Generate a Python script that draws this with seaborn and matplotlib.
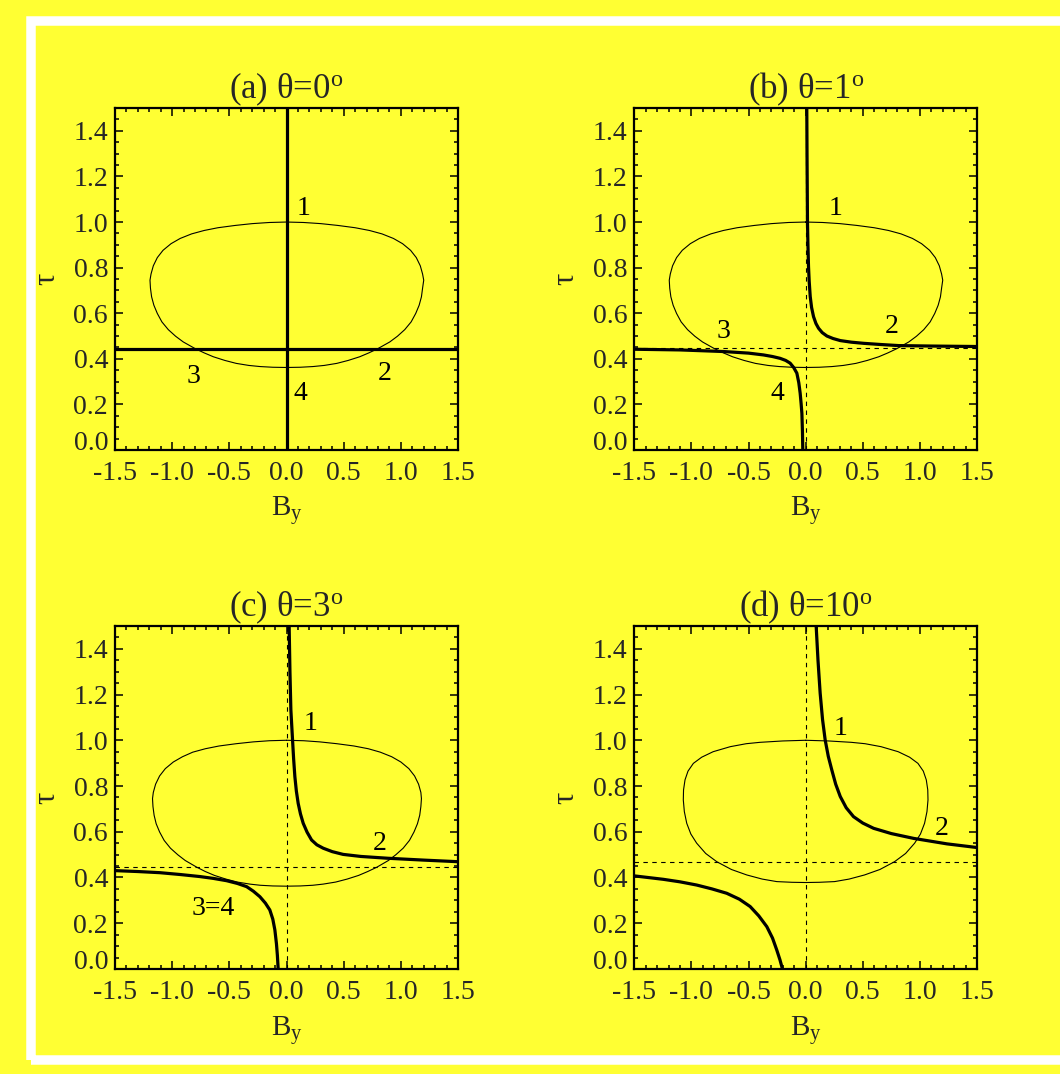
import numpy as np
import pandas as pd
import seaborn as sns
import matplotlib
matplotlib.use("Agg")
import matplotlib.pyplot as plt
from matplotlib.patches import Rectangle
from matplotlib.ticker import MultipleLocator

# ---------------- data ----------------
titles = ["(a) θ=0$^{\\rm o}$", "(b) θ=1$^{\\rm o}$", "(c) θ=3$^{\\rm o}$", "(d) θ=10$^{\\rm o}$"]
x_ticks = [-1.5, -1.0, -0.5, 0.0, 0.5, 1.0, 1.5]
y_ticks = [0.0, 0.2, 0.4, 0.6, 0.8, 1.0, 1.2, 1.4]

# closed oval (panels a, b)
oval_ab_x = [0.00, -0.15, -0.30, -0.45, -0.60, -0.72, -0.83, -0.93, -1.01, -1.08, -1.13, -1.165, -1.185, -1.194,
             -1.19, -1.18, -1.16, -1.13, -1.09, -1.034, -0.97, -0.903, -0.80, -0.72, -0.64, -0.54, -0.44, -0.33,
             -0.23, -0.12, 0.00,
             0.12, 0.23, 0.33, 0.44, 0.54, 0.64, 0.72, 0.80, 0.903, 0.97, 1.034, 1.09, 1.13, 1.16, 1.18, 1.19,
             1.20, 1.19, 1.17, 1.135, 1.085, 1.015, 0.935, 0.835, 0.725, 0.60, 0.45, 0.30, 0.15, 0.00]
oval_ab_y = [1.000, 0.998, 0.993, 0.985, 0.975, 0.963, 0.948, 0.928, 0.905, 0.876, 0.844, 0.808, 0.772, 0.745,
             0.710, 0.672, 0.635, 0.599, 0.562, 0.528, 0.499, 0.474, 0.445, 0.426, 0.409, 0.393, 0.380, 0.371,
             0.366, 0.363, 0.362,
             0.363, 0.366, 0.371, 0.380, 0.393, 0.409, 0.426, 0.445, 0.474, 0.499, 0.528, 0.562, 0.599, 0.635,
             0.672, 0.710,
             0.745, 0.772, 0.808, 0.844, 0.876, 0.905, 0.928, 0.948, 0.963, 0.975, 0.985, 0.993, 0.998, 1.000]
# oval (panel c)
oval_c_x = [0.00, -0.15, -0.29, -0.44, -0.59, -0.71, -0.82, -0.91, -0.99, -1.06, -1.11, -1.145, -1.165, -1.172,
            -1.168, -1.158, -1.14, -1.11, -1.07, -1.015, -0.95, -0.885, -0.785, -0.71, -0.63, -0.53, -0.43, -0.32,
            -0.23, -0.12, 0.00,
            0.12, 0.23, 0.32, 0.43, 0.53, 0.63, 0.71, 0.79, 0.89, 0.955, 1.02, 1.075, 1.115, 1.145, 1.165, 1.175,
            1.18, 1.175, 1.155, 1.12, 1.07, 1.00, 0.92, 0.82, 0.715, 0.59, 0.44, 0.29, 0.15, 0.00]
oval_c_y = oval_ab_y
# oval (panel d)
oval_d_x = [0.00, -0.20, -0.40, -0.52, -0.66, -0.81, -0.91, -0.983, -1.03, -1.056, -1.069, -1.071,
            -1.062, -1.041, -1.005, -0.954, -0.875, -0.778, -0.65, -0.515, -0.38, -0.253, -0.12, 0.00,
            0.12, 0.253, 0.38, 0.515, 0.65, 0.778, 0.875, 0.954, 1.005, 1.041, 1.062,
            1.071, 1.069, 1.056, 1.03, 0.983, 0.91, 0.81, 0.66, 0.52, 0.40, 0.20, 0.00]
oval_d_y = [1.000, 0.997, 0.991, 0.985, 0.972, 0.950, 0.926, 0.899, 0.865, 0.827, 0.783, 0.739,
            0.688, 0.637, 0.590, 0.550, 0.505, 0.469, 0.435, 0.411, 0.393, 0.382, 0.379, 0.378,
            0.379, 0.382, 0.393, 0.411, 0.435, 0.469, 0.505, 0.550, 0.590, 0.637, 0.688,
            0.739, 0.783, 0.827, 0.865, 0.899, 0.926, 0.950, 0.972, 0.985, 0.991, 0.997, 1.000]

# panel (a): straight solution lines
a_vert_x = [0.0, 0.0]
a_vert_y = [0.0, 1.5]
a_horz_x = [-1.5, 1.5]
a_horz_y = [0.445, 0.445]

# panel (b)
b_up_x = [0.010, 0.012, 0.014, 0.016, 0.020, 0.025, 0.031, 0.040, 0.052, 0.069, 0.090, 0.113, 0.145, 0.186,
          0.24, 0.303, 0.40, 0.507, 0.65, 0.814, 1.1, 1.5]
b_up_y = [1.500, 1.300, 1.150, 1.000, 0.900, 0.805, 0.740, 0.673, 0.625, 0.585, 0.555, 0.534, 0.515, 0.500,
          0.489, 0.480, 0.473, 0.468, 0.463, 0.458, 0.456, 0.454]
b_lo_x = [-1.5, -1.1, -0.72, -0.50, -0.369, -0.29, -0.223, -0.175, -0.136, -0.105, -0.077, -0.060, -0.048,
          -0.040, -0.033, -0.028, -0.025]
b_lo_y = [0.442, 0.439, 0.432, 0.425, 0.417, 0.410, 0.402, 0.393, 0.381, 0.362, 0.337, 0.295, 0.249,
          0.205, 0.161, 0.080, 0.000]
b_asym_y = 0.446

# panel (c)
c_up_x = [0.023, 0.030, 0.038, 0.053, 0.062, 0.073, 0.086, 0.102, 0.122, 0.146, 0.18, 0.219, 0.265, 0.321,
          0.40, 0.495, 0.65, 0.889, 1.2, 1.5]
c_up_y = [1.500, 1.300, 1.133, 0.999, 0.920, 0.841, 0.778, 0.724, 0.678, 0.637, 0.598, 0.564, 0.543, 0.528,
          0.513, 0.501, 0.492, 0.484, 0.476, 0.469]
c_lo_x = [-1.5, -1.3, -1.107, -0.93, -0.757, -0.64, -0.524, -0.43, -0.349, -0.29, -0.233, -0.185, -0.146,
          -0.12, -0.102, -0.088, -0.080, -0.073]
c_lo_y = [0.430, 0.426, 0.421, 0.413, 0.404, 0.396, 0.386, 0.374, 0.360, 0.340, 0.316, 0.288, 0.258,
          0.218, 0.171, 0.110, 0.060, 0.000]
c_asym_y = 0.4475

# panel (d)
d_up_x = [0.092, 0.108, 0.127, 0.148, 0.171, 0.198, 0.229, 0.263, 0.303, 0.355, 0.419, 0.50, 0.595, 0.75,
          0.945, 1.237, 1.5]
d_up_y = [1.500, 1.350, 1.206, 1.090, 1.001, 0.930, 0.870, 0.808, 0.754, 0.705, 0.666, 0.638, 0.615, 0.592,
          0.571, 0.547, 0.531]
d_lo_x = [-1.5, -1.246, -1.1, -0.954, -0.82, -0.691, -0.58, -0.486, -0.41, -0.340, -0.29, -0.253, -0.225, -0.203]
d_lo_y = [0.407, 0.392, 0.381, 0.367, 0.350, 0.331, 0.305, 0.273, 0.232, 0.185, 0.135, 0.083, 0.040, 0.000]
d_asym_y = 0.469

# curve number labels: (text, x, y)
labels_a = [("1", 0.146, 1.058), ("2", 0.859, 0.336), ("3", -0.815, 0.321), ("4", 0.122, 0.248)]
labels_b = [("1", 0.259, 1.061), ("2", 0.755, 0.541), ("3", -0.72, 0.520), ("4", -0.247, 0.249)]
labels_c = [("1", 0.210, 1.074), ("2", 0.816, 0.550), ("3=4", -0.641, 0.265)]
labels_d = [("1", 0.302, 1.052), ("2", 1.194, 0.615)]

# ---------------- styling ----------------
BG = "#FFFF33"
sns.set_style("ticks")
plt.rcParams["font.family"] = ["Liberation Serif", "DejaVu Serif"]
plt.rcParams["mathtext.fontset"] = "custom"
plt.rcParams["mathtext.rm"] = "Liberation Serif"
plt.rcParams["mathtext.it"] = "Liberation Serif:italic"

fig = plt.figure(figsize=(10.6, 10.74), dpi=100, facecolor=BG)

positions = [[0.1085, 0.581, 0.3236, 0.3184],
             [0.5984, 0.581, 0.3233, 0.3184],
             [0.1085, 0.0978, 0.3236, 0.3194],
             [0.5984, 0.0978, 0.3233, 0.3194]]

THICK = 2.3
THIN = 0.8
FS = 20


def line(ax, xs, ys, lw, ls="-"):
    df = pd.DataFrame({"x": xs, "y": ys})
    sns.lineplot(data=df, x="x", y="y", ax=ax, sort=False, estimator=None,
                 color="black", linewidth=lw, linestyle=ls, legend=False)


axes = []
for i, pos in enumerate(positions):
    ax = fig.add_axes(pos)
    ax.set_facecolor(BG)
    axes.append(ax)

DASH = (0, (4, 4))
# (a)
ax = axes[0]
line(ax, oval_ab_x, oval_ab_y, THIN)
line(ax, a_vert_x, a_vert_y, THICK)
line(ax, a_horz_x, a_horz_y, THICK)
# (b)
ax = axes[1]
line(ax, oval_ab_x, oval_ab_y, THIN)
line(ax, a_vert_x, a_vert_y, THIN, DASH)
line(ax, a_horz_x, [b_asym_y, b_asym_y], THIN, DASH)
line(ax, b_up_x, b_up_y, THICK)
line(ax, b_lo_x, b_lo_y, THICK)
# (c)
ax = axes[2]
line(ax, oval_c_x, oval_c_y, THIN)
line(ax, a_vert_x, a_vert_y, THIN, DASH)
line(ax, a_horz_x, [c_asym_y, c_asym_y], THIN, DASH)
line(ax, c_up_x, c_up_y, THICK)
line(ax, c_lo_x, c_lo_y, THICK)
# (d)
ax = axes[3]
line(ax, oval_d_x, oval_d_y, THIN)
line(ax, a_vert_x, a_vert_y, THIN, DASH)
line(ax, a_horz_x, [d_asym_y, d_asym_y], THIN, DASH)
line(ax, d_up_x, d_up_y, THICK)
line(ax, d_lo_x, d_lo_y, THICK)

for ax, labs in zip(axes, [labels_a, labels_b, labels_c, labels_d]):
    for t, x, y in labs:
        ax.text(x, y, t, ha="center", va="center", fontsize=FS, color="black")

for ax, title in zip(axes, titles):
    ax.set_xlim(-1.5, 1.5)
    ax.set_ylim(0.0, 1.5)
    ax.set_xticks(x_ticks)
    ax.set_yticks(y_ticks)
    ax.set_xticklabels([f"{v:.1f}" for v in x_ticks])
    ax.set_yticklabels([f"{v:.1f}" for v in y_ticks])
    ax.xaxis.set_minor_locator(MultipleLocator(0.1))
    ax.yaxis.set_minor_locator(MultipleLocator(0.05))
    ax.tick_params(which="both", direction="in", top=True, right=True, width=1.1, color="black")
    ax.tick_params(which="major", length=5.5)
    ax.tick_params(which="minor", length=3)
    ax.tick_params(axis="x", which="major", pad=8, labelsize=FS)
    ax.tick_params(axis="y", which="major", pad=5, labelsize=FS)
    for s in ax.spines.values():
        s.set_linewidth(1.6)
        s.set_color("black")
    ax.set_title(title, fontsize=25, pad=5)
    ax.set_xlabel("B$_{\\rm y}$", fontsize=21, va="top")
    ax.set_ylabel("τ", fontsize=22, rotation=90, va="center", ha="center")
    ax.xaxis.set_label_coords(0.5, -0.13)
    ax.yaxis.set_label_coords(-0.20, 0.5)
    ax.get_yticklabels()[0].set_va("baseline")

# white frame
fw = 9.5
rect = Rectangle((30.5 / 1060, 1 - 1060 / 1074), (1080 - 30.5) / 1060, (1060 - 21) / 1074,
                 transform=fig.transFigure, fill=False, edgecolor="white",
                 linewidth=fw * 72 / 100, clip_on=False)
fig.patches.append(rect)

fig.savefig("out.png", dpi=100, facecolor=BG)
